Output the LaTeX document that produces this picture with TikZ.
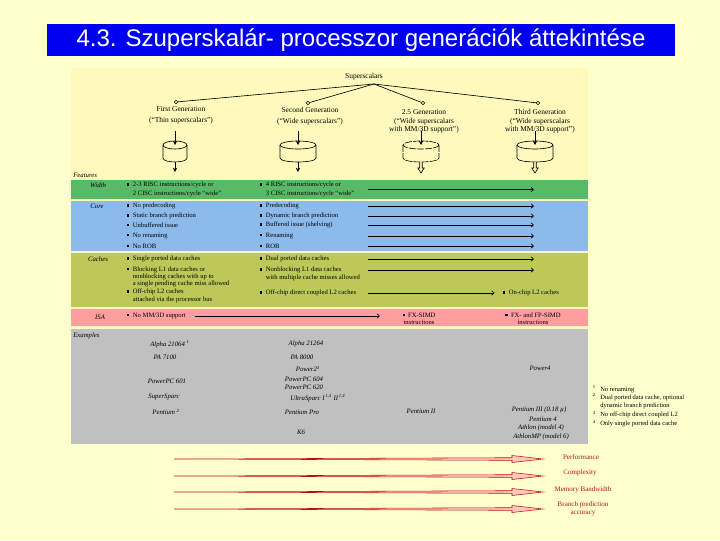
\documentclass[tikz,border=0pt]{standalone}
\usepackage{fontspec}
\setmainfont{Liberation Serif}
\newfontfamily\headfont{Liberation Sans}
\usepackage{xcolor}
\usetikzlibrary{calc}
\usetikzlibrary{arrows.meta}

\definecolor{pagebg}{RGB}{255,255,206}
\definecolor{panelbg}{RGB}{255,250,188}
\definecolor{headblue}{RGB}{0,0,240}
\definecolor{widthband}{RGB}{88,186,102}
\definecolor{coreband}{RGB}{140,186,234}
\definecolor{cacheband}{RGB}{190,200,88}
\definecolor{isaband}{RGB}{255,158,158}
\definecolor{exband}{RGB}{192,192,192}
\definecolor{trendred}{RGB}{185,20,20}
\definecolor{trendfill}{RGB}{255,200,185}

\newcommand{\blt}{\rule[0.35ex]{1.5pt}{1.5pt}\hspace{2.5pt}}
\newcommand{\bltskip}{\hspace*{4pt}}

\begin{document}
\begin{tikzpicture}[x=0.025cm, y=-0.025cm,
    gen/.style={font=\fontsize{5.3}{6}\selectfont, align=center, inner sep=0pt},
    feat/.style={font=\fontsize{4.7}{5.1}\selectfont, anchor=west, align=left, inner sep=0pt},
    rowname/.style={font=\fontsize{4.8}{5.5}\selectfont\itshape, inner sep=0pt},
    proc/.style={font=\fontsize{4.8}{5.5}\selectfont\itshape, inner sep=0pt},
    note/.style={font=\fontsize{4.6}{5.4}\selectfont, anchor=west, align=left, inner sep=0pt},
    notenum/.style={font=\fontsize{3.4}{4}\selectfont, inner sep=0pt},
    trend/.style={font=\fontsize{5}{5.8}\selectfont, text=trendred, align=center, inner sep=0pt},
    dot/.style={circle, draw, fill=panelbg, inner sep=0pt, minimum size=2.6pt, line width=0.35pt},
    feed/.style={line width=0.7pt, -{Stealth[length=3pt,width=3pt]}},
    featarrow/.style={line width=0.45pt, -{Straight Barb[length=1.8pt,width=3.2pt]}},
    trendarrow/.style={draw=trendred, fill=trendfill, line width=0.4pt},
    cyl/.style={line width=0.45pt},
    broken/.style={dash pattern=on 5pt off 0.8pt}
  ]
  %PAGE
  \useasboundingbox (0,0) rectangle (720,540);
  \fill[pagebg] (0,0) rectangle (720,540);

  %TITLE
  \fill[headblue] (47,24) rectangle (675,56);
  \node[text=white, font=\headfont\fontsize{17.1}{20}\selectfont] (title) at (361,40) {4.3. Szuperskalár- processzor generációk áttekintése};

  %PANEL AND BANDS
  \fill[panelbg] (71,68) rectangle (588,444);
  \fill[widthband] (71,180) rectangle (588,199);
  \fill[coreband] (71,201) rectangle (588,251);
  \fill[cacheband] (71,253) rectangle (588,307);
  \fill[isaband] (71,309) rectangle (588,326);
  \fill[exband] (71,329) rectangle (588,444);

  %TREE
  \node[gen] (sup) at (364,77) {Superscalars};
  \coordinate (fork) at (374,84);
  \node[dot] (d1) at (176,102) {};
  \node[dot] (d2) at (308,103) {};
  \node[dot] (d3) at (423,103) {};
  \node[dot] (d4) at (538,103) {};
  \foreach \d in {d1,d2,d3,d4}
    \draw[line width=0.45pt] (fork) -- (\d);

  \node[gen] (gen1) at (181,115.5) {First Generation\\[2pt](“Thin superscalars”)};
  \node[gen] (gen2) at (310,116) {Second Generation\\[1.5pt](“Wide superscalars”)};
  \node[gen] (gen3) at (424,121.5) {2.5 Generation\\(“Wide superscalars\\with MM/3D support”)};
  \node[gen] (gen4) at (540,121.5) {Third Generation\\(“Wide superscalars\\with MM/3D support”)};

  %CYLINDERS
  \foreach \cx/\rx/\pat in {175/12/solid, 298/18/solid, 421/18/broken, 535/18/solid} {
    \draw[feed] (\cx,131) -- (\cx,145);
    \draw[cyl, \pat] (\cx,145) ellipse [x radius=\rx, y radius=4];
    \draw[cyl, \pat] (\cx-\rx,145) -- (\cx-\rx,158) .. controls (\cx-\rx,163.3) and (\cx+\rx,163.3) .. (\cx+\rx,158) -- (\cx+\rx,145);
  }
  \foreach \cx in {175,298}
    \draw[feed] (\cx,162) -- (\cx,172);
  \foreach \cx in {421,535}
    \draw[cyl, fill=panelbg] (\cx-1.3,162) -- (\cx-1.3,168) -- (\cx-3.2,168) -- (\cx,173) -- (\cx+3.2,168) -- (\cx+1.3,168) -- (\cx+1.3,162);

  %FEATURES
  \node[rowname, anchor=west] (features) at (73,175) {Features};
  \node[rowname] (lwidth) at (98,185) {Width};
  \node[rowname] (lcore) at (97,206) {Core};
  \node[rowname] (lcache) at (98,259) {Caches};
  \node[rowname] (lisa) at (100,317) {ISA};

  \coordinate (from) at (368,0);
  \coordinate (to) at (534,0);

  \node[feat, font=\fontsize{4.7}{6.4}\selectfont] (w1) at (127,189.5) {\blt 2-3 RISC instructions/cycle or\\\bltskip 2 CISC instructions/cycle “wide”};
  \node[feat, font=\fontsize{4.7}{6.4}\selectfont] (w2) at (260,189.5) {\blt 4 RISC instructions/cycle or\\\bltskip 3 CISC instructions/cycle “wide”};
  \draw[featarrow] (from |- w2) -- (to |- w2);

  \foreach \y/\a/\b [count=\i] in {206/No predecoding/Predecoding,
      216/Static branch prediction/Dynamic branch prediction,
      225/Unbuffered issue/Buffered issue (shelving),
      236/No renaming/Renaming,
      246/No ROB/ROB} {
    \node[feat] (core1\i) at (127,\y) {\blt \a};
    \node[feat] (core2\i) at (260,\y) {\blt \b};
    \draw[featarrow] (from |- core2\i) -- (to |- core2\i);
  }

  \node[feat] (k11) at (127,259) {\blt Single ported data caches};
  \node[feat] (k12) at (127,277) {\blt Blocking L1 data caches or\\\bltskip nonblocking caches with up to\\\bltskip a single pending cache miss allowed};
  \node[feat, font=\fontsize{4.7}{5.7}\selectfont] (k13) at (127,296) {\blt Off-chip L2 caches\\\bltskip attached via the processor bus};
  \node[feat] (k21) at (260,259) {\blt Dual ported data caches};
  \node[feat] (k22) at (260,270) {\blt Nonblocking L1 data caches};
  \node[feat] (k22x) at (265.6,277.5) {with multiple cache misses allowed};
  \node[feat] (k23) at (260,293) {\blt Off-chip direct coupled L2 caches};
  \node[feat] (k3) at (503,293) {\blt On-chip L2 caches};
  \draw[featarrow] (from |- k21) -- (to |- k21);
  \draw[featarrow] (from |- k22) -- (to |- k22);
  \draw[featarrow] (from |- k23) -- ([xshift=-6pt]k3.west);

  \node[feat] (isa1) at (127,316) {\blt No MM/3D support};
  \node[feat, align=center, anchor=center] (isa2) at (419,318.5) {\blt FX-SIMD\\instructions};
  \node[feat, align=center, anchor=center] (isa3) at (533,318.5) {\blt FX- and FP-SIMD\\instructions};
  \coordinate (isatip) at (380,0);
  \draw[featarrow] ([xshift=6pt]isa1.east) -- (isatip |- isa1);

  %EXAMPLES
  \node[rowname, anchor=west] (examples) at (73,336) {Examples};
  \node[proc] (alpha1) at (170,344) {Alpha 21064 \textsuperscript{1}};
  \node[proc] (pa1) at (165,357) {PA 7100};
  \node[proc] (ppc601) at (167,381) {PowerPC 601};
  \node[proc] (ssparc) at (164,397) {SuperSparc};
  \node[proc] (pent) at (166,412) {Pentium \textsuperscript{2}};

  \node[proc] (alpha2) at (306,344) {Alpha 21264};
  \node[proc] (pa2) at (302,357) {PA 8000};
  \node[proc] (pow2) at (308,369) {Power2\textsuperscript{3}};
  \node[proc] (ppc604) at (304,379) {PowerPC 604};
  \node[proc] (ppc620) at (304,387) {PowerPC 620};
  \node[proc] (usparc) at (318,398) {UltraSparc I\textsuperscript{\,1,4}\ II\textsuperscript{\,1,4}};
  \node[proc] (ppro) at (302,412) {Pentium Pro};
  \node[proc] (k6) at (301,432) {K6};

  \node[proc] (pent2) at (421,411) {Pentium II};
  \node[proc] (pow4) at (540,368) {Power4};
  \node[proc] (pent3) at (539,410) {Pentium III (0.18 µ)};
  \node[proc] (pent4) at (543,419) {Pentium 4};
  \node[proc] (ath) at (541,428) {Athlon (model 4)};
  \node[proc] (athmp) at (541,437) {AthlonMP (model 6)};

  %NOTES
  \node[notenum] (m1) at (594,387) {1};
  \node[notenum] (m2) at (594,395) {2};
  \node[notenum] (m3) at (594,413) {3};
  \node[notenum] (m4) at (594,422) {4};
  \node[note] (n1) at (600,390) {No renaming};
  \node[note] (n2) at (600,402) {Dual ported data cache, optional\\dynamic branch prediction};
  \node[note] (n3) at (600,415) {No off-chip direct coupled L2};
  \node[note] (n4) at (600,424) {Only single ported data cache};

  %TRENDS
  \node[trend] (perf) at (581,457) {Performance};
  \node[trend] (cplx) at (580,473) {Complexity};
  \node[trend] (memb) at (583,490) {Memory Bandwidth};
  \node[trend] (bpred) at (583,509) {Branch prediction\\accuracy};
  \foreach \yy in {459,476,492,509}
    \draw[trendarrow] (174,\yy) -- (187,\yy) -- (512,\yy-1.3) -- (512,\yy-3.5) -- (543,\yy) -- (512,\yy+3.5) -- (512,\yy+1.3) -- (187,\yy) -- cycle;
\end{tikzpicture}
\end{document}
